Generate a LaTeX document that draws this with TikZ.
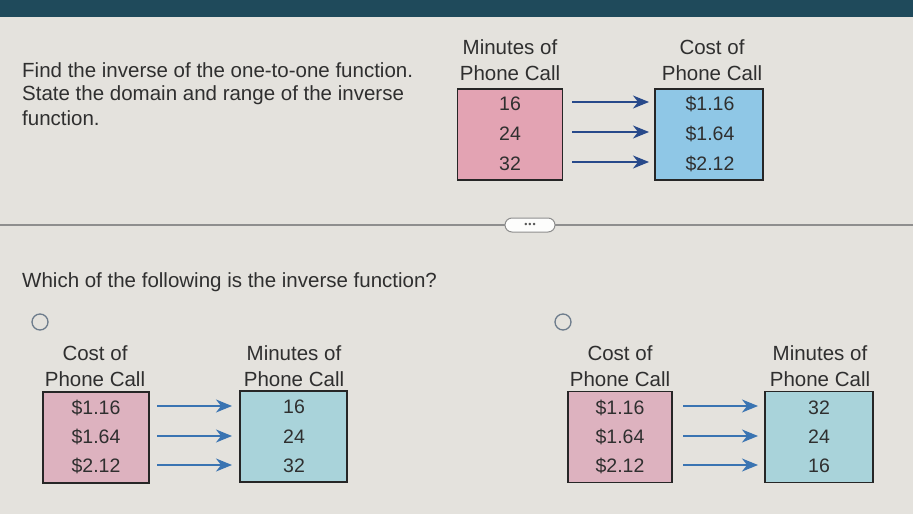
\documentclass[tikz,border=0pt]{standalone}
\usepackage{fontspec}
\setmainfont{Liberation Sans}
\usetikzlibrary{shapes, arrows, arrows.meta, positioning}
\definecolor{bggray}{HTML}{E4E2DD}
\definecolor{topband}{HTML}{1F4A5B}
\definecolor{txt}{HTML}{2F2F2F}
\definecolor{pinkA}{HTML}{E3A3B3}
\definecolor{blueA}{HTML}{8FC7E6}
\definecolor{pinkB}{HTML}{DDB2BF}
\definecolor{blueB}{HTML}{A9D3DA}
\definecolor{arrA}{HTML}{27498A}
\definecolor{arrB}{HTML}{3A74B2}
\definecolor{rulegray}{HTML}{8E8E8E}
\definecolor{radio}{HTML}{6D7C8C}
\tikzstyle{txtline} = [anchor=west, inner sep=0pt, text=txt, font=\fontsize{20.5}{24}\selectfont]
\tikzstyle{head}    = [align=center, inner sep=0pt, text=txt, font=\fontsize{20.5}{26}\selectfont]
\tikzstyle{val}     = [inner sep=0pt, text=txt, font=\fontsize{19.5}{24}\selectfont]
\tikzstyle{box}     = [draw=black!85, line width=1.2pt, minimum width=105pt, minimum height=91pt, inner sep=0pt]
\tikzstyle{arr}     = [draw, line width=1.3pt, -{Stealth[length=16pt, width=13pt, inset=5pt]}]
\tikzstyle{o}       = [draw=radio, circle, line width=1.3pt, minimum size=16pt, inner sep=0pt]

\begin{document}
\begin{tikzpicture}[x=1pt, y=-1pt]
\useasboundingbox (0,0) rectangle (913,514);
\fill[bggray] (0,0) rectangle (913,514);
\fill[topband] (0,0) rectangle (913,17);

% question
\node [txtline] (q1) at (22,70)  {Find the inverse of the one-to-one function.};
\node [txtline] (q2) at (22,95)  {State the domain and range of the inverse};
\node [txtline] (q3) at (22,118) {function.};

% given function
\node [head] (hm) at (510,60)  {Minutes of\\Phone Call};
\node [head] (hc) at (712,60)  {Cost of\\Phone Call};
\node [box, fill=pinkA] (pk) at (510,134.5) {};
\node [box, fill=blueA, minimum width=108pt] (bl) at (709,134.5) {};
\node [val] (m1) at (510,104) {16};
\node [val] (m2) at (510,134) {24};
\node [val] (m3) at (510,164) {32};
\node [val] (c1) at (710,104) {\$1.16};
\node [val] (c2) at (710,134) {\$1.64};
\node [val] (c3) at (710,164) {\$2.12};
\coordinate (a1) at (572,102); \coordinate (b1) at (649,102);
\coordinate (a2) at (572,132); \coordinate (b2) at (649,132);
\coordinate (a3) at (572,162); \coordinate (b3) at (649,162);
\path [arrA] (a1) edge [arr] (b1)
             (a2) edge [arr] (b2)
             (a3) edge [arr] (b3);

% separator
\coordinate (sl) at (0,225);
\coordinate (sr) at (913,225);
\draw [rulegray, line width=1.2pt] (sl) -- (sr);
\node [draw=rulegray, fill=white!92!bggray, rounded corners=7pt, line width=1pt,
       minimum width=50pt, minimum height=14pt, inner sep=0pt,
       text=txt!80, font=\fontsize{9}{9}\selectfont] (dots) at (530,225) {•\kern1pt•\kern1pt•};

\node [txtline] (q4) at (22,282) {Which of the following is the inverse function?};

% choice 1
\node [o] (r1) at (40,322) {};
\node [head] (h1c) at (95,366)  {Cost of\\Phone Call};
\node [head] (h1m) at (294,366) {Minutes of\\Phone Call};
\node [box, fill=pinkB, minimum width=106pt] (pk1) at (96,437.5) {};
\node [box, fill=blueB, minimum width=107pt] (bl1) at (293.5,436.5) {};
\node [val] (c11) at (96,408) {\$1.16};
\node [val] (c12) at (96,437) {\$1.64};
\node [val] (c13) at (96,466) {\$2.12};
\node [val] (m11) at (294,407) {16};
\node [val] (m12) at (294,437) {24};
\node [val] (m13) at (294,466) {32};
\coordinate (d1) at (157,406); \coordinate (e1) at (232,406);
\coordinate (d2) at (157,436); \coordinate (e2) at (232,436);
\coordinate (d3) at (157,465); \coordinate (e3) at (232,465);
\path [arrB] (d1) edge [arr] (e1)
             (d2) edge [arr] (e2)
             (d3) edge [arr] (e3);

% choice 2
\node [o] (r2) at (563,322) {};
\node [head] (h2c) at (620,366) {Cost of\\Phone Call};
\node [head] (h2m) at (820,366) {Minutes of\\Phone Call};
\node [box, fill=pinkB, minimum width=104pt] (pk2) at (620,437) {};
\node [box, fill=blueB, minimum width=108pt] (bl2) at (819,437) {};
\node [val] (c21) at (620,408) {\$1.16};
\node [val] (c22) at (620,437) {\$1.64};
\node [val] (c23) at (620,466) {\$2.12};
\node [val] (m21) at (819,408) {32};
\node [val] (m22) at (819,437) {24};
\node [val] (m23) at (819,466) {16};
\coordinate (f1) at (683,406); \coordinate (g1) at (758,406);
\coordinate (f2) at (683,436); \coordinate (g2) at (758,436);
\coordinate (f3) at (683,465); \coordinate (g3) at (758,465);
\path [arrB] (f1) edge [arr] (g1)
             (f2) edge [arr] (g2)
             (f3) edge [arr] (g3);

\end{tikzpicture}
\end{document}
